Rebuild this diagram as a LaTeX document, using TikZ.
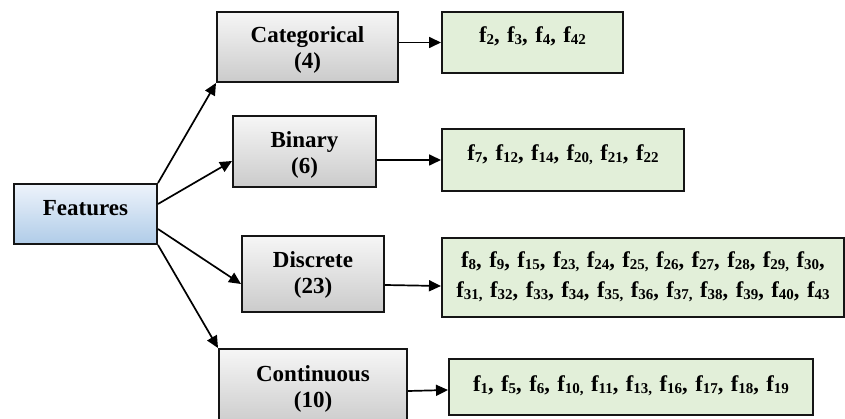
\documentclass[tikz,border=0pt]{standalone}
\usepackage{fontspec}
\setmainfont{Liberation Serif}
\usetikzlibrary{arrows.meta,calc}

\definecolor{grayTop}{HTML}{F6F6F6}
\definecolor{grayBot}{HTML}{CBCBCB}
\definecolor{blueTop}{HTML}{EDF3FB}
\definecolor{blueBot}{HTML}{B0CCE8}
\definecolor{listFill}{HTML}{E2EFD9}
\definecolor{edge}{HTML}{151515}

% feature with a lowered, smaller index
\newcommand{\fx}[1]{f\raisebox{-2pt}{\fontsize{15}{15}\selectfont #1}}

\begin{document}
\begin{tikzpicture}[x=1pt,y=-1pt,
  box/.style={draw=edge, line width=2pt, inner sep=0pt, align=center,
    anchor=north west, font=\bfseries\fontsize{23}{26}\selectfont},
  catbox/.style={box, top color=grayTop, bottom color=grayBot},
  rootbox/.style={box, top color=blueTop, bottom color=blueBot},
  listbox/.style={box, fill=listFill, font=\bfseries\fontsize{22.5}{30}\selectfont},
  sz/.style n args={3}{minimum width=#1, text width=#1, minimum height=#2,
    text height=#3, text depth=#2-#3},
  link/.style={line width=1.7pt, -{Triangle[length=12pt,width=11pt]}}
]
\useasboundingbox (0,0) rectangle (845,419);

% root
\node[rootbox, sz={143pt}{60pt}{32pt}] (F) at (13,183) {Features};

% feature groups
\node[catbox, sz={181pt}{70pt}{31pt}] (Cat) at (216,11) {Categorical\\(4)};
\node[catbox, sz={143pt}{71pt}{32pt}] (Bin) at (232,115) {Binary\\(6)};
\node[catbox, sz={142pt}{76pt}{32pt}] (Dis) at (241,235) {Discrete\\(23)};
\node[catbox, sz={188pt}{77pt}{32pt}] (Con) at (218,348) {Continuous\\(10)};

% member lists
\node[listbox, sz={181pt}{61pt}{31pt}] (L1) at (441,11)
  {\fx{2}, \fx{3}, \fx{4}, \fx{42}};
\node[listbox, sz={242pt}{62pt}{32pt}] (L2) at (441,128)
  {\fx{7}, \fx{12}, \fx{14}, \fx{20,} \fx{21}, \fx{22}};
\node[listbox, sz={402pt}{79pt}{30pt}] (L3) at (441,237)
  {\fx{8}, \fx{9}, \fx{15}, \fx{23,} \fx{24}, \fx{25,} \fx{26}, \fx{27}, \fx{28}, \fx{29,} \fx{30},\\
   \fx{31,} \fx{32}, \fx{33}, \fx{34}, \fx{35,} \fx{36}, \fx{37,} \fx{38}, \fx{39}, \fx{40}, \fx{43}};
\node[listbox, sz={364pt}{56pt}{32pt}] (L4) at (448,358)
  {\fx{1}, \fx{5}, \fx{6}, \fx{10,} \fx{11}, \fx{13,} \fx{16}, \fx{17}, \fx{18}, \fx{19}};

% root to groups
\draw[link] (F.north east) -- (Cat.south west);
\draw[link] ([yshift=-21pt]F.north east) -- ([yshift=-9.5pt]Bin.west);
\draw[link] ([yshift=16pt]F.south east) -- ([yshift=-10pt]Dis.west);
\draw[link] (F.south east) -- (Con.north west);

% groups to lists
\draw[link] (Cat.east |- L1.west) -- (L1.west);
\draw[link] (Bin.east |- L2.west) -- (L2.west);
\draw[link] ([yshift=-11pt]Dis.east) -- ([yshift=-8.5pt]L3.west);
\draw[link] ([yshift=-3.5pt]Con.east) -- ([yshift=-3pt]L4.west);
\end{tikzpicture}
\end{document}
